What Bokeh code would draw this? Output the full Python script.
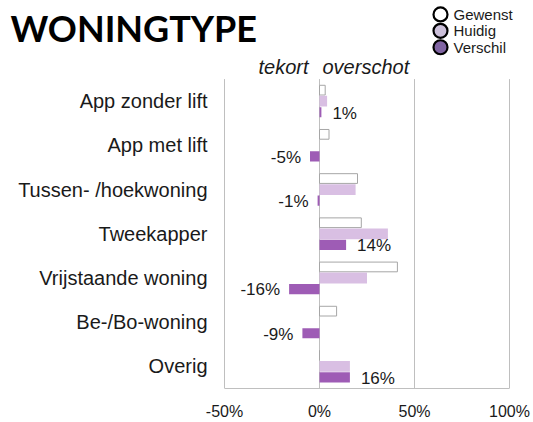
from bokeh.plotting import figure
from bokeh.models import ColumnDataSource, Range1d, FixedTicker, PrintfTickFormatter
from bokeh.core.properties import value
from bokeh.embed import file_html
from bokeh.resources import INLINE

# ---- data ----
categories = ["App zonder lift", "App met lift", "Tussen- /hoekwoning", "Tweekapper",
              "Vrijstaande woning", "Be-/Bo-woning", "Overig"]
gewenst = [3, 5, 20, 22, 41, 9, 0]
huidig = [4, 0, 19, 36, 25, 0, 16]
verschil = [1, -5, -1, 14, -16, -9, 16]
x_ticks = [-50, 0, 50, 100]
series_names = ["Gewenst", "Huidig", "Verschil"]
legend_colors = ["white", "#ccc0da", "#8064a2"]
bar_colors = ["white", "#d9bfe3", "#9e5cb5"]

FONT = "Liberation Sans"
W, H = 533, 422
FRAME_BOTTOM = 390           # pixel row of the x axis
PLOT_TOP = 79                # pixel row where the category bands start
PX_LEFT, PX_RIGHT = 224, 509  # pixel columns of -50% and 100%
NCAT = len(categories)

# ranges so that the frame covers the whole canvas above the x axis
xscale = (PX_RIGHT - PX_LEFT) / (x_ticks[-1] - x_ticks[0])
x_start = x_ticks[0] - PX_LEFT / xscale
x_end = x_ticks[-1] + (W - PX_RIGHT) / xscale
yscale = (FRAME_BOTTOM - PLOT_TOP) / NCAT
y_end = FRAME_BOTTOM / yscale

def dx(px):
    return x_start + px / xscale

def dy(py):
    return (FRAME_BOTTOM - py) / yscale

p = figure(width=W, height=H, output_backend="svg", toolbar_location=None,
           x_range=Range1d(x_start, x_end), y_range=Range1d(0, y_end),
           min_border_left=0, min_border_right=0, min_border_top=0,
           min_border_bottom=H - FRAME_BOTTOM)
p.outline_line_color = None
p.background_fill_color = "white"
p.border_fill_color = "white"
p.yaxis.visible = False
p.xgrid.grid_line_color = None
p.ygrid.grid_line_color = None

ypos = [NCAT - 0.5 - i for i in range(NCAT)]
src = ColumnDataSource(dict(
    cat=categories, y=ypos, xl=[x_ticks[0]] * NCAT,
    y_g=[y + 0.25 for y in ypos], y_h=ypos, y_v=[y - 0.25 for y in ypos],
    y_t=[y - 0.27 for y in ypos],
    gewenst=gewenst, huidig=huidig, verschil=verschil,
    lbl=[f"{v}%" for v in verschil],
    align=["left" if v >= 0 else "right" for v in verschil],
    xoff=[11 if v >= 0 else -9 for v in verschil],
))

# vertical grid lines over the category band
p.segment(x0=x_ticks, y0=[0] * len(x_ticks), x1=x_ticks, y1=[NCAT] * len(x_ticks),
          line_color="#bfbfbf", line_width=1)

p.hbar(y="y_g", left=0, right="gewenst", height=0.22,
       fill_color=bar_colors[0], line_color="#a6a6a6", line_width=1, source=src)
p.hbar(y="y_h", left=0, right="huidig", height=0.245,
       fill_color=bar_colors[1], line_color=None, source=src)
p.hbar(y="y_v", left=0, right="verschil", height=0.23,
       fill_color=bar_colors[2], line_color=None, source=src)

# value labels of the difference bars
p.text(x="verschil", y="y_t", text="lbl", text_align="align", x_offset="xoff",
       text_baseline="middle", text_font=value(FONT), text_font_size="17px",
       text_color="#1a1a1a", source=src)

# category labels (left axis)
p.text(x="xl", y="y", text="cat", source=src, x_offset=-17,
       text_align="right", text_baseline="middle", text_font=value(FONT),
       text_font_size="20px", text_color="#1a1a1a")

# x axis
p.xaxis.bounds = (x_ticks[0], x_ticks[-1])
p.xaxis.ticker = FixedTicker(ticks=x_ticks)
p.xaxis.formatter = PrintfTickFormatter(format="%d%%")
p.xaxis.axis_line_color = "#bfbfbf"
p.xaxis.major_tick_line_color = None
p.xaxis.minor_tick_line_color = None
p.xaxis.major_tick_out = 0
p.xaxis.major_tick_in = 0
p.xaxis.major_label_text_font = FONT
p.xaxis.major_label_text_font_size = "16px"
p.xaxis.major_label_text_color = "#1a1a1a"
p.xaxis.major_label_standoff = 14

# title
p.text(x=[dx(10)], y=[dy(28)], text=["WONINGTYPE"], text_font=value("Lato"),
       text_font_style="bold", text_font_size="36px", text_color="black",
       text_baseline="middle", text_align="left")

# tekort / overschot
p.text(x=[dx(308)], y=[dy(67)], text=["tekort"], text_font=value(FONT),
       text_font_style="italic", text_font_size="20px", text_color="#1a1a1a",
       text_baseline="middle", text_align="right")
p.text(x=[dx(322)], y=[dy(67)], text=["overschot"], text_font=value(FONT),
       text_font_style="italic", text_font_size="20px", text_color="#1a1a1a",
       text_baseline="middle", text_align="left")

# legend
leg_y = [dy(14 + 16.5 * i) for i in range(len(series_names))]
p.scatter(x=[dx(440)] * len(series_names), y=leg_y, size=14, marker="circle",
          fill_color=legend_colors, line_color="black", line_width=2.2)
p.text(x=[dx(453)] * len(series_names), y=leg_y, text=series_names, text_font=value(FONT),
       text_font_size="15px", text_color="#1a1a1a", text_baseline="middle", text_align="left")

open("out.html", "w").write(file_html(p, INLINE))
